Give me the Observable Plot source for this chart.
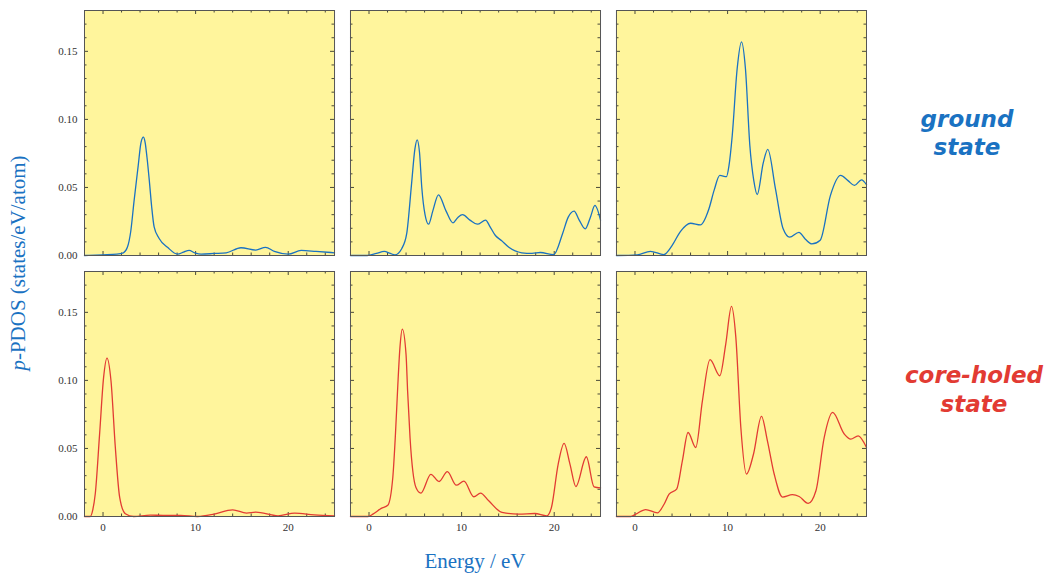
<!DOCTYPE html>
<html>
<head>
<meta charset="utf-8">
<script src="https://cdn.jsdelivr.net/npm/d3@7"></script>
<script src="https://cdn.jsdelivr.net/npm/@observablehq/plot@0.6"></script>
<style>
  html, body { margin: 0; padding: 0; background: #ffffff; }
  #wrap { position: relative; width: 1053px; height: 574px; overflow: hidden; }
  #wrap > svg { position: absolute; left: 0; top: 0; }
  .lab { position: absolute; white-space: nowrap; line-height: normal; }
  .serif { font-family: "Liberation Serif", "Times New Roman", serif; font-size: 21px; color: #1a72c2; }
  .state { font-family: "DejaVu Sans", sans-serif; font-weight: bold; font-style: oblique; font-size: 23px; transform: translateX(-50%); }
</style>
</head>
<body>
<div id="wrap"></div>
<script>
// ---------- data ----------
const columns = ["a", "b", "c"];
const states = ["ground", "core-holed"];
const energyDomain = [-2, 25];
const pdosDomain = [0, 0.18];
const xLabelTicks = [0, 10, 20];
const xMinorTicks = [2, 4, 6, 8, 12, 14, 16, 18, 22, 24];
const yLabelTicks = [0, 0.05, 0.10, 0.15];
const yMajorTicks = [0.05, 0.10, 0.15];
const yMinorTicks = [0.01, 0.02, 0.03, 0.04, 0.06, 0.07, 0.08, 0.09, 0.11, 0.12, 0.13, 0.14, 0.16, 0.17];

// [energy eV, p-PDOS]
const groundA = [[-2,0],[0,0.0005],[1.5,0.001],[2.2,0.002],[2.63,0.006],[3.0,0.018],[3.35,0.040],[3.8,0.066],[4.1,0.083],[4.36,0.087],[4.55,0.083],[4.75,0.072],[5.0,0.055],[5.25,0.036],[5.52,0.021],[6.06,0.0125],[6.97,0.006],[8.05,0.001],[8.7,0.0025],[9.3,0.0037],[9.9,0.002],[10.6,0.001],[12,0.0015],[13.3,0.002],[14.9,0.0057],[16.5,0.004],[17.55,0.006],[18.5,0.003],[20,0.001],[21.4,0.0037],[23,0.003],[25,0.002]];
const groundB = [[-2,0],[-0.2,0],[0.8,0.0015],[1.65,0.003],[2.3,0.0015],[2.8,0.0005],[3.53,0.005],[4.07,0.016],[4.6,0.053],[4.95,0.078],[5.2,0.085],[5.45,0.076],[5.7,0.050],[6.05,0.030],[6.43,0.023],[6.9,0.033],[7.5,0.0446],[8.3,0.033],[9.06,0.024],[9.6,0.028],[10.1,0.030],[10.9,0.026],[11.7,0.023],[12.6,0.026],[13.0,0.022],[13.65,0.0147],[14.3,0.011],[15.1,0.006],[16.5,0.002],[17.6,0.0015],[18.5,0.0022],[19.95,0.0007],[20.9,0.016],[21.5,0.028],[22.15,0.0326],[22.7,0.026],[23.35,0.0196],[23.9,0.028],[24.4,0.0368],[25,0.026]];
const groundC = [[-2,0],[0.23,0.0005],[1.67,0.003],[3.1,0.0007],[4.0,0.0073],[4.9,0.0176],[6.0,0.0237],[7.07,0.0225],[7.97,0.034],[8.55,0.048],[9.16,0.0588],[9.88,0.058],[10.15,0.066],[10.5,0.088],[11.03,0.137],[11.5,0.157],[11.93,0.137],[12.4,0.081],[12.83,0.055],[13.2,0.0448],[13.85,0.068],[14.34,0.078],[15.17,0.049],[16.0,0.0196],[16.7,0.0135],[17.7,0.017],[18.4,0.012],[19.1,0.0085],[20.0,0.0112],[21.1,0.044],[22.2,0.0588],[23.0,0.055],[23.7,0.0515],[24.46,0.0556],[25,0.052]];
const coreA = [[-2,0],[-1.38,0],[-1.1,0.005],[-0.84,0.0165],[-0.37,0.0605],[0.06,0.102],[0.43,0.1164],[0.86,0.0997],[1.33,0.0507],[1.8,0.014],[2.41,0.002],[3.3,0],[5.1,0.001],[6.5,0.0008],[8.4,0.0008],[10.2,0],[12,0.0017],[14,0.0049],[15.5,0.0025],[16.5,0.0032],[18.9,0.0005],[20.7,0.0025],[22.8,0.0012],[25,0.0005]];
const coreB = [[-2,0],[-0.11,0],[0.42,0.0017],[1.32,0.006],[2.03,0.0083],[2.57,0.0287],[2.86,0.061],[3.1,0.095],[3.35,0.125],[3.6,0.1377],[4.0,0.119],[4.17,0.092],[4.43,0.058],[5.07,0.0213],[5.6,0.0172],[6.68,0.031],[7.57,0.0257],[8.46,0.033],[9.43,0.023],[10.25,0.026],[11.32,0.0145],[12.04,0.0172],[12.93,0.0115],[14.36,0.003],[16.15,0.0017],[17.9,0.0022],[19.2,0.0005],[19.7,0.0066],[20.43,0.0385],[21.07,0.0537],[21.7,0.0385],[22.34,0.022],[23.47,0.0439],[24.3,0.0218],[25,0.021]];
const coreC = [[-2,0],[-0.46,0],[0.08,0.0017],[1.16,0.0051],[2.42,0.0027],[3.14,0.009],[3.68,0.0164],[4.5,0.0201],[5.12,0.041],[5.73,0.0617],[6.56,0.0507],[7.28,0.085],[8.1,0.1152],[9.16,0.1034],[9.8,0.1267],[10.42,0.1544],[10.89,0.1316],[11.43,0.0654],[12.04,0.0312],[12.8,0.0459],[13.66,0.0735],[14.3,0.0556],[15.03,0.0312],[15.93,0.0143],[17.0,0.016],[17.73,0.0147],[18.7,0.0096],[19.54,0.0189],[20.43,0.058],[21.34,0.0765],[22.6,0.0606],[23.3,0.0569],[24.1,0.0593],[25,0.0507]];

const panels = [
  {state: "ground", col: "a", pts: groundA},
  {state: "ground", col: "b", pts: groundB},
  {state: "ground", col: "c", pts: groundC},
  {state: "core-holed", col: "a", pts: coreA},
  {state: "core-holed", col: "b", pts: coreB},
  {state: "core-holed", col: "c", pts: coreC}
];
const rows = panels.flatMap(p => p.pts.map(([E, v]) => ({E, v, state: p.state, col: p.col, key: p.state + p.col})));

// ---------- layout / style ----------
const W = 1053, H = 574, mL = 84, mR = 187, mT = 10, mB = 58;
const padX = 0.06, padY = 0.0613;
const bandW = (W - mL - mR) / (columns.length - padX) * (1 - padX);
const bandH = (H - mT - mB) / (states.length - padY) * (1 - padY);
const blue = "#1a72c2", red = "#e23b33";
const bg = "#fff59c", frameColor = "#555555", tickColor = "#4a4a3a";
const major = 4, minor = 2.5;

const chart = Plot.plot({
  width: W, height: H,
  marginLeft: mL, marginRight: mR, marginTop: mT, marginBottom: mB,
  style: {fontFamily: "'Liberation Serif', 'Times New Roman', serif", fontSize: "11px", color: "#333", background: "transparent"},
  x: {domain: energyDomain, label: null},
  y: {domain: pdosDomain, label: null},
  fx: {domain: columns, paddingInner: padX, paddingOuter: 0, round: false, axis: null, label: null},
  fy: {domain: states, paddingInner: padY, paddingOuter: 0, round: false, axis: null, label: null},
  color: {domain: states, range: [blue, red]},
  marks: [
    Plot.frame({fill: bg}),
    // inward frame ticks on all four sides
    Plot.tickX(xLabelTicks, {x: d => d, insetTop: bandH - major, stroke: tickColor}),
    Plot.tickX(xLabelTicks, {x: d => d, insetBottom: bandH - major, stroke: tickColor}),
    Plot.tickX(xMinorTicks, {x: d => d, insetTop: bandH - minor, stroke: tickColor}),
    Plot.tickX(xMinorTicks, {x: d => d, insetBottom: bandH - minor, stroke: tickColor}),
    Plot.tickY(yMajorTicks, {y: d => d, insetRight: bandW - major, stroke: tickColor}),
    Plot.tickY(yMajorTicks, {y: d => d, insetLeft: bandW - major, stroke: tickColor}),
    Plot.tickY(yMinorTicks, {y: d => d, insetRight: bandW - minor, stroke: tickColor}),
    Plot.tickY(yMinorTicks, {y: d => d, insetLeft: bandW - minor, stroke: tickColor}),
    Plot.line(rows, {x: "E", y: "v", fx: "col", fy: "state", z: "key", stroke: "state", strokeWidth: 1.3, curve: "monotone-x"}),
    Plot.frame({stroke: frameColor, strokeWidth: 1}),
    Plot.axisX(xLabelTicks, {tickSize: 0, tickPadding: 7, label: null}),
    Plot.axisY(yLabelTicks, {tickSize: 0, tickPadding: 7, tickFormat: d3.format(".2f"), label: null})
  ]
});

const wrap = document.getElementById("wrap");
wrap.appendChild(chart);

function addLabel(html, cls, style) {
  const d = document.createElement("div");
  d.className = "lab " + cls;
  d.innerHTML = html;
  Object.assign(d.style, style);
  wrap.appendChild(d);
  return d;
}
// axis titles
addLabel("Energy / eV", "serif", {left: "475px", top: "549px", transform: "translateX(-50%)"});
addLabel("<i>p</i>-PDOS (states/eV/atom)", "serif", {left: "18px", top: "263px", transform: "translate(-50%, -50%) rotate(-90deg)"});
// state annotations
addLabel("ground", "state", {left: "967px", top: "106px", color: blue});
addLabel("state", "state", {left: "967px", top: "134px", color: blue});
addLabel("core-holed", "state", {left: "974px", top: "362px", color: red});
addLabel("state", "state", {left: "974px", top: "391px", color: red});
</script>
</body>
</html>
